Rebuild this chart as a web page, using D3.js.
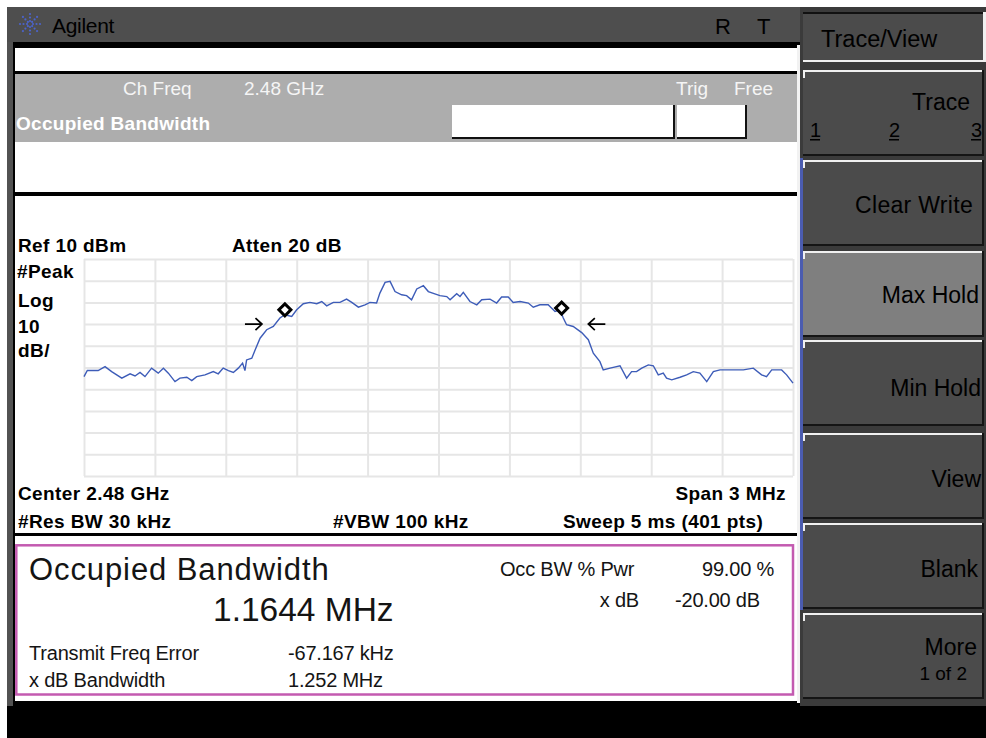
<!DOCTYPE html>
<html><head><meta charset="utf-8">
<script src="https://cdn.jsdelivr.net/npm/d3@7"></script>
<style>
html,body{margin:0;padding:0;background:#fff;}
svg{display:block;}
text{font-family:"Liberation Sans",Arial,Helvetica,sans-serif;}
</style></head><body>
<svg id="c" width="986" height="738"></svg>
<script>
// ---- data ----
const freqOffsetMHz = [
 -1.500,-1.486,-1.440,-1.411,-1.383,-1.340,-1.305,-1.284,-1.263,-1.242,
 -1.214,-1.186,-1.164,-1.143,-1.115,-1.094,-1.065,-1.044,-1.023,-0.988,
 -0.953,-0.932,-0.911,-0.889,-0.868,-0.847,-0.829,-0.819,-0.812,-0.790,
 -0.776,-0.755,-0.727,-0.699,-0.671,-0.650,-0.621,-0.600,-0.572,-0.544,
 -0.515,-0.494,-0.473,-0.445,-0.417,-0.389,-0.367,-0.339,-0.311,-0.290,
 -0.262,-0.248,-0.226,-0.205,-0.184,-0.156,-0.135,-0.114,-0.092,-0.064,
 -0.043,0.006,0.035,0.049,0.077,0.091,0.105,0.133,0.162,0.183,
 0.218,0.246,0.267,0.295,0.316,0.345,0.380,0.401,0.429,0.464,
 0.493,0.514,0.528,0.542,0.570,0.606,0.634,0.655,0.683,0.697,
 0.726,0.768,0.796,0.817,0.838,0.860,0.888,0.909,0.930,0.951,
 0.965,0.987,1.022,1.050,1.078,1.106,1.135,1.163,1.191,1.247,
 1.290,1.332,1.367,1.388,1.410,1.452,1.473,1.500];
const levelDbm = [
 -44.2,-41.4,-41.4,-39.6,-41.9,-44.9,-42.9,-43.9,-42.3,-44.2,
 -40.3,-42.6,-40.3,-42.6,-46.5,-44.9,-44.5,-46.0,-44.2,-43.4,
 -41.9,-42.9,-40.3,-41.4,-42.3,-40.3,-38.0,-41.4,-36.5,-35.7,
 -31.9,-26.5,-22.6,-21.1,-17.2,-15.7,-16.5,-13.4,-10.6,-10.0,
 -10.6,-9.6,-11.6,-10.0,-10.0,-8.5,-10.0,-12.2,-11.1,-10.0,
 -10.3,-5.7,-0.8,-0.3,-5.0,-6.5,-6.9,-8.8,-3.8,-2.3,
 -5.0,-6.9,-7.3,-8.8,-6.0,-7.3,-5.4,-9.6,-11.1,-8.8,
 -8.5,-10.3,-7.5,-7.5,-10.0,-9.6,-10.3,-12.2,-11.1,-11.1,
 -14.2,-13.4,-17.2,-20.3,-21.1,-23.9,-27.2,-33.4,-37.3,-41.1,
 -40.3,-39.2,-44.9,-41.9,-41.9,-40.3,-38.8,-39.2,-43.4,-42.6,
 -44.9,-45.7,-44.5,-43.4,-41.9,-42.6,-46.5,-41.9,-41.1,-41.1,
 -41.1,-40.3,-43.4,-44.2,-41.1,-41.1,-43.4,-47.2];
const gridFreqTicks = [-1.5,-1.2,-0.9,-0.6,-0.3,0,0.3,0.6,0.9,1.2,1.5];
const gridLevelTicks = [10,0,-10,-20,-30,-40,-50,-60,-70,-80,-90];
const markerFreqs = [-0.650, 0.521];
const markerLevels = [-13.4, -12.6];
const arrowFreqs = [-0.747, 0.634];
const arrowDirs = [1, -1];
const arrowLevel = -20;
const softkeyLabels = ["Trace/View","Trace","Clear Write","Max Hold","Min Hold","View","Blank","More"];
const resultLabels = ["Transmit Freq Error","x dB Bandwidth"];
const resultValues = ["-67.167 kHz","1.252 MHz"];

// ---- drawing ----
const svg = d3.select("#c");
function rect(x,y,w,h,f){return svg.append("rect").attr("x",x).attr("y",y).attr("width",w).attr("height",h).attr("fill",f);}
function txt(s,x,y,o){o=o||{};const t=svg.append("text").attr("x",x).attr("y",y).text(s)
  .attr("font-size",o.size||19).attr("fill",o.fill||"#000").attr("font-weight",o.bold?"bold":"normal")
  .attr("text-anchor",o.anchor||"start");
  if(o.ls!==undefined) t.attr("letter-spacing",o.ls);return t;}

rect(0,0,986,738,"#fff");
rect(7,7,979,731,"#3b3b3b");
rect(7,7,793,35,"#4e4e4e");
rect(7,42,6,664,"#525252");
rect(13,42,787,664,"#000");
rect(797,45,3,658,"#f2f2f2");
rect(15,48,782,23,"#fff");
rect(15,74,782,68,"#adadad");
rect(15,142,782,50,"#fff");
rect(15,196,782,337,"#fff");
rect(15,536,782,165,"#fff");
rect(7,706,979,32,"#000");

// logo
const logo = svg.append("g").attr("transform","translate(30,24)");
for(let a=0;a<8;a++){for(let r=3;r<=10;r+=3.5){
  const ang=a*Math.PI/4;
  logo.append("circle").attr("cx",r*Math.cos(ang)).attr("cy",r*Math.sin(ang)).attr("r",1.1).attr("fill","#4c63c9");}}
txt("Agilent",52,33,{size:21,ls:-0.3});
txt("R",715,34,{size:22});
txt("T",757,34,{size:22});

// gray band
txt("Ch Freq",123,95,{fill:"#f5f5f5"});
txt("2.48 GHz",244,95,{fill:"#f5f5f5"});
txt("Trig",676,95,{fill:"#f5f5f5"});
txt("Free",734,95,{fill:"#f5f5f5"});
txt("Occupied Bandwidth",16,130,{fill:"#fff",bold:true,ls:0.3});
// input boxes
[[452,105,223,34],[677,105,70,34]].forEach(b=>{
  rect(b[0],b[1],b[2],b[3],"#fff");
  rect(b[0],b[1]+b[3]-2,b[2],2,"#111");
  rect(b[0]+b[2]-2,b[1],2,b[3],"#111");
});

// softkeys
rect(803,12,180,50,"#4b4b4b");
rect(803,12,180,2,"#111");
rect(803,60,183,2,"#f0f0f0");
rect(983,12,3,50,"#f0f0f0");
txt(softkeyLabels[0],821,47,{size:23.5});
const keyTops=[70,160,251,340,433,523,613];
keyTops.forEach((t,i)=>{
  const h=86;
  rect(803,t,180,h,i===2?"#7f7f7f":"#4b4b4b");
  rect(803,t,181,2,"#f0f0f0");
  rect(803,t,2,8,"#f0f0f0");
  rect(803,t+h-2,181,2,"#151515");
  rect(982,t,2,h,"#151515");
});
rect(800,158,3,452,"#4b5cb0");
txt(softkeyLabels[1],970,110,{size:23,anchor:"end"});
[["1",810],["2",889],["3",971]].forEach(d=>{
  txt(d[0],d[1],137,{size:20});
  rect(d[1],139,10,1.5,"#000");
});
txt(softkeyLabels[2],973,213,{size:23,anchor:"end",ls:0.3});
txt(softkeyLabels[3],979,303,{size:23,anchor:"end"});
txt(softkeyLabels[4],981,396,{size:23,anchor:"end"});
txt(softkeyLabels[5],981,487,{size:23,anchor:"end"});
txt(softkeyLabels[6],978,577,{size:23,anchor:"end"});
txt(softkeyLabels[7],977,655,{size:23,anchor:"end"});
txt("1 of 2",967,680,{size:19,anchor:"end"});

// plot
const x = d3.scaleLinear().domain([-1.5,1.5]).range([84,793]);
const y = d3.scaleLinear().domain([-90,10]).range([476,259]);
const gx = svg.append("g").attr("transform",`translate(0,${y(-90)})`)
  .call(d3.axisBottom(x).tickValues(gridFreqTicks).tickSize(-(y(-90)-y(10))).tickFormat(""));
gx.select(".domain").remove();
gx.selectAll("line").attr("stroke","#e6e6e6").attr("stroke-width",2);
const gy = svg.append("g").attr("transform",`translate(${x(-1.5)},0)`)
  .call(d3.axisLeft(y).tickValues(gridLevelTicks).tickSize(-(x(1.5)-x(-1.5))).tickFormat(""));
gy.select(".domain").remove();
gy.selectAll("line").attr("stroke","#e6e6e6").attr("stroke-width",2);

const pts = d3.zip(freqOffsetMHz, levelDbm);
svg.append("path").datum(pts)
  .attr("d", d3.line().x(d=>x(d[0])).y(d=>y(d[1])))
  .attr("fill","none").attr("stroke","#3d5cb8").attr("stroke-width",1.4);

// markers
d3.zip(markerFreqs, markerLevels).forEach(m=>{
  svg.append("path").attr("d", d3.symbol(d3.symbolSquare, 72)())
    .attr("transform",`translate(${x(m[0])},${y(m[1])}) rotate(45)`)
    .attr("fill","#fff").attr("stroke","#000").attr("stroke-width",3);
});
// arrows
d3.zip(arrowFreqs, arrowDirs).forEach(a=>{
  const tx=x(a[0]), ty=y(arrowLevel), d=a[1];
  svg.append("path").attr("d",`M${tx-d*17},${ty}L${tx},${ty}M${tx-d*6.5},${ty-6}L${tx},${ty}L${tx-d*6.5},${ty+6}`)
    .attr("fill","none").attr("stroke","#000").attr("stroke-width",1.7);
});

// plot annotations
const B={bold:true,size:19,ls:0.4};
txt("Ref 10 dBm",18,252,B);
txt("Atten 20 dB",232,252,B);
txt("#Peak",17,278,B);
txt("Log",18,307,B);
txt("10",18,333,B);
txt("dB/",18,357,B);
txt("Center 2.48 GHz",18,500,B);
txt("Span 3 MHz",786,500,Object.assign({anchor:"end"},B));
txt("#Res BW 30 kHz",18,528,B);
txt("#VBW 100 kHz",333,528,B);
txt("Sweep 5 ms (401 pts)",563,528,B);

// results box
svg.append("rect").attr("x",16.3).attr("y",545.3).attr("width",776.7).attr("height",149.2)
  .attr("fill","#fff").attr("stroke","#c35ab0").attr("stroke-width",2.5);
const C={fill:"#141414"};
txt("Occupied Bandwidth",29,580,Object.assign({size:31,ls:0.9},C));
txt("1.1644 MHz",213,621,Object.assign({size:33.5},C));
resultLabels.forEach((s,i)=>txt(s,29,660+i*27,Object.assign({size:20,ls:-0.2},C)));
resultValues.forEach((s,i)=>txt(s,288,660+i*27,Object.assign({size:20,ls:-0.2},C)));
txt("Occ BW % Pwr",500,576,Object.assign({size:20,ls:-0.2},C));
txt("99.00 %",702,576,Object.assign({size:20,ls:-0.2},C));
txt("x dB",639,607,Object.assign({size:20,anchor:"end",ls:-0.2},C));
txt("-20.00 dB",675,607,Object.assign({size:20,ls:-0.2},C));
</script>
</body></html>
